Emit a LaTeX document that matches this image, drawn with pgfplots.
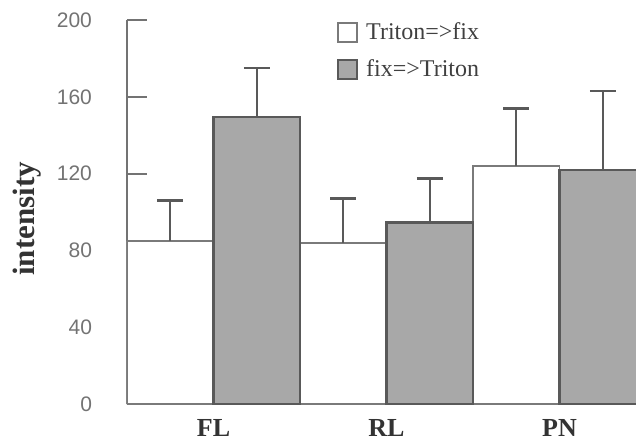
\documentclass[border=0pt]{standalone}
\usepackage{fontspec}
\setmainfont{Liberation Serif}
\setsansfont{Liberation Sans}
\usepackage{pgfplots}
\pgfplotsset{compat=1.18}
\definecolor{axisgray}{gray}{0.45}
\definecolor{barfill}{gray}{0.66}
\definecolor{edge}{gray}{0.35}
\begin{document}
\begin{tikzpicture}
\useasboundingbox (-63.5pt,-18.5pt) rectangle (254.5pt,202pt);
\begin{axis}[
  at={(0,0)}, anchor=south west,
  scale only axis,
  width=254.5pt, height=192pt,
  xmin=0.5, xmax=3.442,
  ymin=0, ymax=200,
  axis x line*=bottom,
  axis y line*=left,
  axis line style={draw=axisgray, line width=0.9pt},
  ytick={0,40,80,120,160,200},
  tick align=inside,
  major tick length=10pt,
  ytick style={draw=axisgray, line width=0.9pt},
  yticklabel style={font=\sffamily\fontsize{10.5}{12}\selectfont, text=axisgray, xshift=-14pt},
  /pgf/number format/assume math mode=true,
  xtick={1,2,3},
  xticklabels={FL,RL,PN},
  xtick style={draw=none},
  xticklabel style={font=\bfseries\fontsize{13}{15}\selectfont, text=black!80, inner sep=0pt, text depth=0pt, yshift=2.5pt},
  ylabel={intensity},
  ylabel style={font=\bfseries\fontsize{15.5}{17}\selectfont, text=black!80, at={(axis description cs:-0.197,0.482)}, anchor=center},
  ybar,
  bar width=0.5,
  legend style={at={(axis description cs:0.413,1.003)}, anchor=north west, draw=none, fill=none,
    font=\fontsize{12}{13}\selectfont, text=black!75, row sep=4.5pt, column sep=2pt, inner sep=0pt, outer sep=0pt,
    nodes={inner sep=2pt}},
  legend cell align=left,
  legend image code/.code={\draw[#1, line width=1pt] (0pt,-4.75pt) rectangle (9.5pt,4.75pt);},
  error bars/error bar style={draw=edge, line width=0.9pt},
  error bars/error mark options={draw=edge, line width=1.2pt, mark size=6.5pt, rotate=90},
]
\addplot[bar shift=-0.25, fill=white, draw=edge!80, line width=0.8pt,
  error bars/.cd, y dir=plus, y explicit]
  coordinates {(1,85) +- (0,21) (2,84) +- (0,23) (3,124) +- (0,30)};
\addlegendentry{Triton=>fix}
\addplot[bar shift=0.25, fill=barfill, draw=edge, line width=1.2pt,
  error bars/.cd, y dir=plus, y explicit]
  coordinates {(1,149.5) +- (0,25.5) (2,94.5) +- (0,23) (3,122) +- (0,41)};
\addlegendentry{fix=>Triton}
\end{axis}
\end{tikzpicture}
\end{document}
